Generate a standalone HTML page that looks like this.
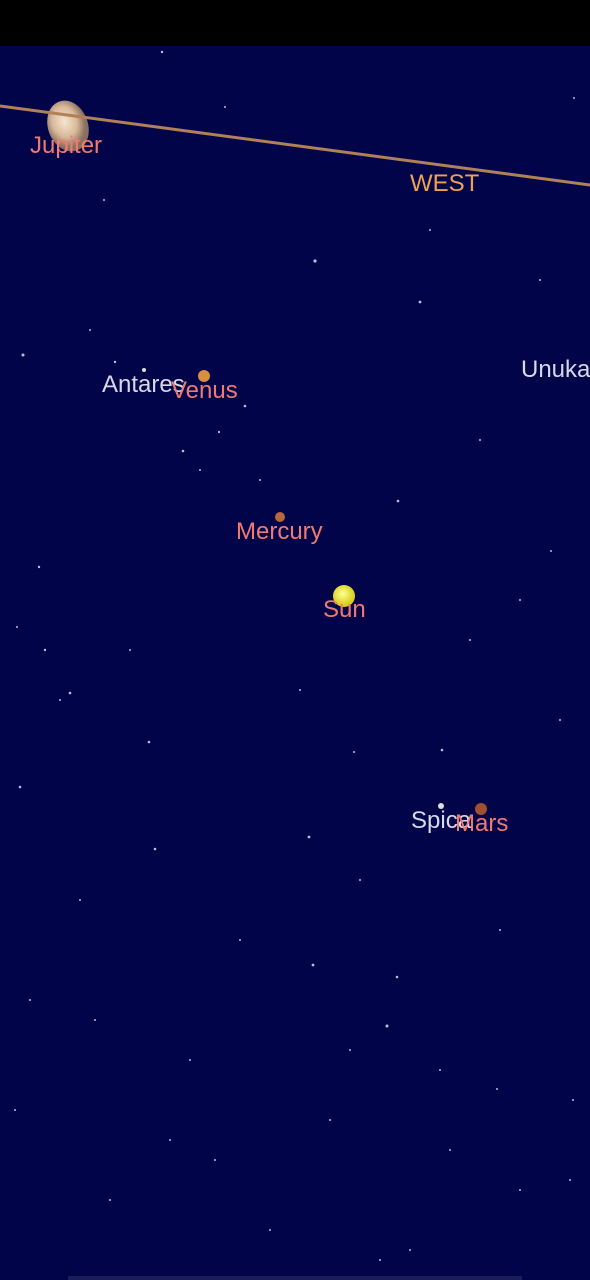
<!DOCTYPE html>
<html><head><meta charset="utf-8"><style>
html,body{margin:0;padding:0;background:#000;}
#sky{position:absolute;left:0;top:0;width:590px;height:1280px;}
text{font-family:"Liberation Sans",sans-serif;font-size:24px;}
</style></head><body>
<svg id="sky" width="590" height="1280">
<rect x="0" y="0" width="590" height="46" fill="#000"/>
<rect x="0" y="46" width="590" height="1234" fill="#02044a"/>
<g id="stars"></g>
<defs>
<radialGradient id="jup" cx="45%" cy="40%"><stop offset="0" stop-color="#f4e6d0"/><stop offset="0.6" stop-color="#d9b99a"/><stop offset="1" stop-color="#8a7060"/></radialGradient>
<radialGradient id="sun" cx="45%" cy="40%"><stop offset="0" stop-color="#ffff90"/><stop offset="1" stop-color="#d8d020"/></radialGradient>
</defs>
<ellipse cx="68" cy="126" rx="20" ry="26" transform="rotate(-20 68 126)" fill="url(#jup)"/>
<line x1="0" y1="106" x2="590" y2="185" stroke="#b08058" stroke-width="3"/>
<text x="30" y="153" fill="#f07a70">Jupiter</text>
<text x="410" y="191" fill="#f0a050">WEST</text>
<text x="521" y="377" fill="#d8d8e8">Unukalhai</text>
<circle cx="144" cy="370" r="2" fill="#ddd"/>
<text x="102" y="392" fill="#d8d8e8">Antares</text>
<circle cx="204" cy="376" r="6" fill="#d89040"/>
<text x="171" y="398" fill="#f07a70">Venus</text>
<circle cx="280" cy="517" r="5" fill="#b86838"/>
<text x="236" y="539" fill="#f07a70">Mercury</text>
<circle cx="344" cy="596" r="11" fill="url(#sun)"/>
<text x="323" y="617" fill="#f07a70">Sun</text>
<circle cx="441" cy="806" r="3" fill="#ddd"/>
<text x="411" y="828" fill="#d8d8e8">Spica</text>
<circle cx="481" cy="809" r="6" fill="#a05030"/>
<text x="455" y="831" fill="#f07a70">Mars</text>
<rect x="68" y="1276" width="454" height="4" fill="#1a1d5a"/>
</svg>
<script>
const starX=[162,225,315,420,574,23,115,245,219,183,398,551,39,17,45,70,149,20,155,309,354,442,313,397,387,497,573,104,430,540,90,200,260,480,520,60,130,300,470,560,80,240,360,500,30,190,330,450,570,110,270,410,520,15,170,350,440,95,215,380];
const starY=[52,107,261,302,98,355,362,406,432,451,501,551,567,627,650,693,742,787,849,837,752,750,965,977,1026,1089,1100,200,230,280,330,470,480,440,600,700,650,690,640,720,900,940,880,930,1000,1060,1120,1150,1180,1200,1230,1250,1190,1110,1140,1050,1070,1020,1160,1260];
const starR=[1.2,1,1.6,1.4,1,1.5,1.2,1.3,1.1,1.3,1.3,1,1.2,1,1.2,1.3,1.3,1.3,1.3,1.4,1,1.3,1.4,1.3,1.5,1,1,1,1,1,1,1,1,1,1,1,1,1,1,1,1,1,1,1,1,1,1,1,1,1,1,1,1,1,1,1,1,1,1,1];
const g=document.getElementById('stars');
for(let i=0;i<starX.length;i++){
 const c=document.createElementNS('http://www.w3.org/2000/svg','circle');
 c.setAttribute('cx',starX[i]);c.setAttribute('cy',starY[i]);c.setAttribute('r',starR[i]);
 c.setAttribute('fill','#b8bce0');
 
 
 g.appendChild(c);
}
</script>
</body></html>
